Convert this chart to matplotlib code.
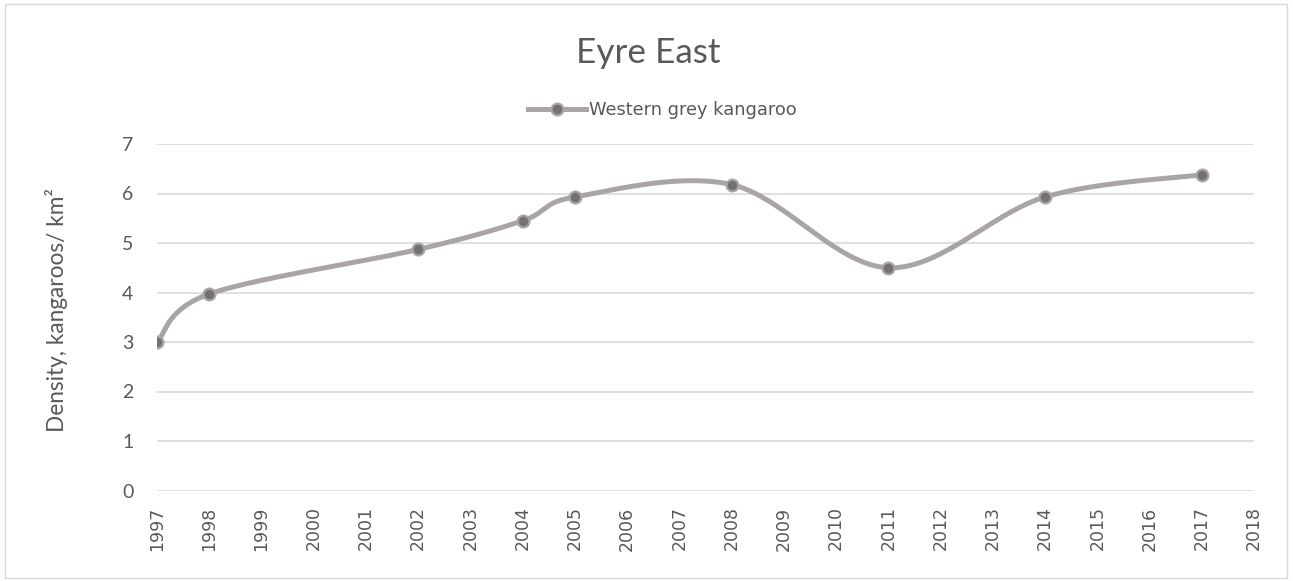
import numpy as np
import matplotlib
matplotlib.use("Agg")
import matplotlib.pyplot as plt
from matplotlib.patches import Rectangle
from matplotlib.lines import Line2D

years = [1997, 1998, 2002, 2004, 2005, 2008, 2011, 2014, 2017]
density = [3.0, 3.97, 4.87, 5.45, 5.93, 6.18, 4.5, 5.93, 6.38]
tick_years = list(range(1997, 2019))
yticks = [0, 1, 2, 3, 4, 5, 6, 7]
title = "Eyre East"
series_name = "Western grey kangaroo"
ylabel = "Density, kangaroos/ km\u00b2"

LINE_C = "#a9a5a5"
MARK_C = "#757171"
TXT_C = "#595959"
GRID_C = "#d9d9d9"


def smooth(xs, ys, n=40):
    # Excel-like smoothed line: Catmull-Rom style Bezier segments
    P = np.column_stack([xs, ys]).astype(float)
    out = [P[0:1]]
    m = len(P)
    for i in range(m - 1):
        p0 = P[i - 1] if i > 0 else P[i]
        p1 = P[i]
        p2 = P[i + 1]
        p3 = P[i + 2] if i + 2 < m else P[i + 1]
        c1 = p1 + (p2 - p0) / 6.0
        c2 = p2 - (p3 - p1) / 6.0
        t = np.linspace(0, 1, n)[1:, None]
        seg = ((1 - t) ** 3) * p1 + 3 * ((1 - t) ** 2) * t * c1 + 3 * (1 - t) * t ** 2 * c2 + t ** 3 * p2
        out.append(seg)
    arr = np.vstack(out)
    return arr[:, 0], arr[:, 1]


fig = plt.figure(figsize=(12.93, 5.81), dpi=100)
W, H = 1293, 581
ax = fig.add_axes([157 / W, 1 - 490.5 / H, (1254 - 157) / W, (490.5 - 144) / H])

sx, sy = smooth(years, density)
ax.plot(sx, sy, color=LINE_C, lw=3.6, solid_capstyle="round", zorder=3)
ax.plot(years, density, ls="none", marker="o", ms=8.5, mfc=MARK_C, mec=LINE_C, mew=1.6, zorder=4)

ax.set_xlim(1997, 2018)
ax.set_ylim(0, 7)
ax.set_yticks(yticks)
ax.set_xticks(tick_years)
ax.set_xticklabels([str(y) for y in tick_years], rotation=90, fontsize=12.5,
                   family="DejaVu Sans", color=TXT_C)
ax.set_yticklabels([str(v) for v in yticks], fontsize=14, family="Lato", color=TXT_C)
ax.tick_params(axis="y", length=0, pad=17)
ax.tick_params(axis="x", length=0, pad=11.5)
ax.grid(axis="y", color=GRID_C, lw=1.2)
ax.set_axisbelow(True)
for s in ax.spines.values():
    s.set_visible(False)

fig.text(57 / W, 1 - 310 / H, ylabel, rotation=90, ha="center", va="center",
         fontsize=16.3, family="Lato", color=TXT_C)
fig.text(648.5 / W, 1 - 53 / H, title, ha="center", va="center",
         fontsize=25.3, family="Lato", color=TXT_C)

handle = Line2D([], [], color=LINE_C, lw=3.6, marker="o", ms=8.5, mfc=MARK_C, mec=LINE_C, mew=1.6)
fig.legend([handle], [series_name], loc="center", bbox_to_anchor=(662 / W, 1 - 110 / H),
           frameon=False, prop={"family": "DejaVu Sans", "size": 12.8}, labelcolor=TXT_C,
           handlelength=3.3, handletextpad=0.15, borderaxespad=0)

fig.patches.append(Rectangle((5 / W, 3 / H), (1287 - 5) / W, (577 - 3) / H, transform=fig.transFigure,
                             fill=False, edgecolor=GRID_C, lw=1))

fig.savefig("out.png", dpi=100, facecolor="white")
